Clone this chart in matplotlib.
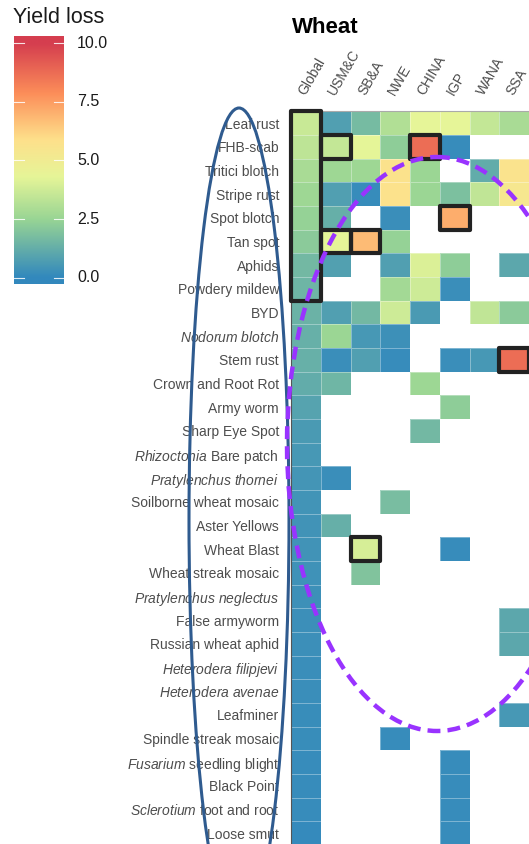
import numpy as np
import matplotlib
matplotlib.use("Agg")
import matplotlib.pyplot as plt
from matplotlib.colors import LinearSegmentedColormap
from matplotlib.patches import Rectangle, Ellipse
from matplotlib.transforms import blended_transform_factory, ScaledTranslation

plt.rcParams['font.family'] = ['Liberation Sans', 'DejaVu Sans']
plt.rcParams['mathtext.fontset'] = 'custom'
plt.rcParams['mathtext.rm'] = 'Liberation Sans'
plt.rcParams['mathtext.it'] = 'Liberation Sans:italic'

nan = np.nan

regions = ["Global", "USM&C", "SB&A", "NWE", "CHINA", "IGP", "WANA", "SSA"]

pests = [
    "Leaf rust", "FHB-scab", "Tritici blotch", "Stripe rust", "Spot blotch",
    "Tan spot", "Aphids", "Powdery mildew", "BYD", r"$\mathit{Nodorum\ blotch}$",
    "Stem rust", "Crown and Root Rot", "Army worm", "Sharp Eye Spot",
    r"$\mathit{Rhizoctonia}$ Bare patch", r"$\mathit{Pratylenchus\ thornei}$",
    "Soilborne wheat mosaic", "Aster Yellows", "Wheat Blast",
    "Wheat streak mosaic", r"$\mathit{Pratylenchus\ neglectus}$",
    "False armyworm", "Russian wheat aphid", r"$\mathit{Heterodera\ filipjevi}$",
    r"$\mathit{Heterodera\ avenae}$", "Leafminer", "Spindle streak mosaic",
    r"$\mathit{Fusarium}$ seedling blight", "Black Point",
    r"$\mathit{Sclerotium}$ foot and root", "Loose smut",
]

# yield loss (%) per pest, one list per region (nan = not reported)
loss_global = [3.62, 3.35, 2.86, 2.62, 2.4, 2.16, 1.6, 1.46, 1.38, 1.32, 1.29,
               1.2, 0.86, 0.6, 0.52, 0.45, 0.42, 0.39, 0.36, 0.33, 0.3, 0.27,
               0.25, 0.22, 0.21, 0.18, 0.16, 0.15, 0.13, 0.12, 0.1]
loss_usmc = [0.75, 3.5, 2.64, 0.75, 1.28, 4.26, 0.82, nan, 0.75, 2.54, 0.22,
             1.5, nan, nan, nan, 0.22, nan, 1.28, nan, nan, nan, nan, nan,
             nan, nan, nan, nan, nan, nan, nan, nan]
loss_sba = [1.65, 4.26, 2.64, 0.15, nan, 6.78, nan, nan, 1.58, 0.52, 0.75,
            nan, nan, nan, nan, nan, nan, nan, 3.94, 1.95, nan, nan, nan,
            nan, nan, nan, nan, nan, nan, nan, nan]
loss_nwe = [3.08, 2.25, 5.72, 5.77, 0.22, 2.4, 0.75, 2.75, 3.72, 0.3, 0.15,
            nan, nan, nan, nan, nan, 1.72, nan, nan, nan, nan, nan, nan,
            nan, nan, nan, 0.15, nan, nan, nan, nan]
loss_china = [4.33, 8.74, 2.54, 2.54, nan, nan, 4.05, 3.72, 0.6, nan, nan,
              2.59, nan, 1.58, nan, nan, nan, nan, nan, nan, nan, nan, nan,
              nan, nan, nan, nan, nan, nan, nan, nan]
loss_igp = [4.33, 0.15, nan, 1.8, 7.14, nan, 2.25, 0.22, nan, nan, 0.22, nan,
            2.25, nan, nan, nan, nan, nan, 0.15, nan, nan, nan, nan, nan,
            nan, nan, nan, 0.15, 0.15, 0.15, 0.15]
loss_wana = [3.5, nan, 1.2, 3.4, nan, nan, nan, nan, 3.4, nan, 0.52, nan,
             nan, nan, nan, nan, nan, nan, nan, nan, nan, nan, nan, nan,
             nan, nan, nan, nan, nan, nan, nan]
loss_ssa = [2.86, nan, 5.63, 5.39, nan, nan, 1.05, nan, 2.18, nan, 8.74, nan,
            nan, nan, nan, nan, nan, nan, nan, nan, nan, 1.05, 1.05, nan,
            nan, 0.52, nan, nan, nan, nan, nan]

legend_breaks = [0.0, 2.5, 5.0, 7.5, 10.0]

# highlighted cells: (region, first pest, last pest)
highlights = [
    ("Global", "Leaf rust", "Powdery mildew"),
    ("USM&C", "FHB-scab", "FHB-scab"),
    ("CHINA", "FHB-scab", "FHB-scab"),
    ("IGP", "Spot blotch", "Spot blotch"),
    ("USM&C", "Tan spot", "Tan spot"),
    ("SB&A", "Tan spot", "Tan spot"),
    ("SSA", "Stem rust", "Stem rust"),
    ("SB&A", "Wheat Blast", "Wheat Blast"),
]

# spectral-style gradient, anchored on the yield-loss scale 0..10
scale_stops = [0.0, 2.5, 4.3, 5.9, 7.9, 10.0]
scale_colors = ["#3288BD", "#99D594", "#E6F598", "#FEE08B", "#FC8D59", "#D53E4F"]
cmap = LinearSegmentedColormap.from_list(
    "yield_loss", [(s / 10.0, c) for s, c in zip(scale_stops, scale_colors)])
cmap.set_bad("white")

W, H = 529, 844
fig = plt.figure(figsize=(W / 100, H / 100), dpi=100)

# ---- heatmap ----
x0, x1 = 291, 529
y_top, row_h = 111.2, 23.67
n_rows = len(pests)
ax = fig.add_axes([x0 / W, 1 - (y_top + n_rows * row_h) / H,
                   (x1 - x0) / W, n_rows * row_h / H])
M = np.array([loss_global, loss_usmc, loss_sba, loss_nwe, loss_china,
              loss_igp, loss_wana, loss_ssa]).T
ax.pcolormesh(np.arange(len(regions) + 1), np.arange(n_rows + 1),
              np.ma.masked_invalid(M), cmap=cmap, vmin=0, vmax=10,
              edgecolors=(1, 1, 1, 0.35), linewidth=0.4)
ax.set_xlim(0, len(regions))
ax.set_ylim(n_rows, 0)
ax.set_yticks(np.arange(n_rows) + 0.5)
ax.set_yticklabels(pests, fontsize=10, color="#4D4D4D")
ax.tick_params(axis="y", length=0, pad=8.6)
ax.set_xticks([])
for side in ("right", "bottom"):
    ax.spines[side].set_visible(False)
ax.spines["top"].set_color("#AAAAAA")
ax.spines["top"].set_linewidth(0.8)
ax.spines["left"].set_color("#555555")
ax.spines["left"].set_linewidth(0.8)

trans = blended_transform_factory(ax.transData, ax.transAxes)
for i, name in enumerate(regions):
    ax.text(i + 0.5, 1.0, name, fontsize=10, color="#4D4D4D", rotation=60,
            ha="left", va="center", rotation_mode="anchor",
            transform=trans + ScaledTranslation(-0.04, 0.17, fig.dpi_scale_trans))

for reg, p_first, p_last in highlights:
    c = regions.index(reg)
    r0 = pests.index(p_first)
    r1 = pests.index(p_last)
    ax.add_patch(Rectangle((c, r0), 1, r1 - r0 + 1, fill=False,
                           edgecolor="#222222", linewidth=3.0,
                           joinstyle="round", zorder=5, clip_on=False))

fig.text(291.5 / W, 1 - 33 / H, "Wheat", fontsize=16, fontweight="bold",
         va="baseline", ha="left")

# ---- colour legend ----
lo, hi = -0.26, 10.3
cax = fig.add_axes([14 / W, 1 - 284 / H, 50 / W, 248 / H])
grad = np.linspace(lo, hi, 600).reshape(-1, 1)
cax.imshow(grad, extent=[0, 1, lo, hi], origin="lower", aspect="auto",
           cmap=cmap, vmin=0, vmax=10)
cax.set_xlim(0, 1)
cax.set_ylim(lo, hi)
cax.axis("off")
for v in legend_breaks:
    cax.plot([0, 0.2], [v, v], color="white", lw=0.8, alpha=0.85)
    cax.plot([0.8, 1], [v, v], color="white", lw=0.8, alpha=0.85)
    cax.text(1.26, v, f"{v:.1f}", fontsize=11.5, color="#1A1A1A",
             va="center", ha="left", transform=cax.transData, clip_on=False)
fig.text(13 / W, 1 - 23 / H, "Yield loss", fontsize=15.5, va="baseline",
         ha="left", color="#1A1A1A")

# ---- annotation outlines ----
ov = fig.add_axes([0, 0, 1, 1], zorder=10)
ov.set_xlim(0, W)
ov.set_ylim(H, 0)
ov.axis("off")
ov.patch.set_alpha(0)
ov.add_patch(Ellipse((239, 520), 100, 824, fill=False,
                     edgecolor="#2F5B8F", linewidth=2.2))
ov.add_patch(Ellipse((437, 444), 300, 574, fill=False,
                     edgecolor="#9933FF", linewidth=3.2,
                     linestyle=(0, (2.9, 1.6))))

fig.savefig("out.png", dpi=100)
